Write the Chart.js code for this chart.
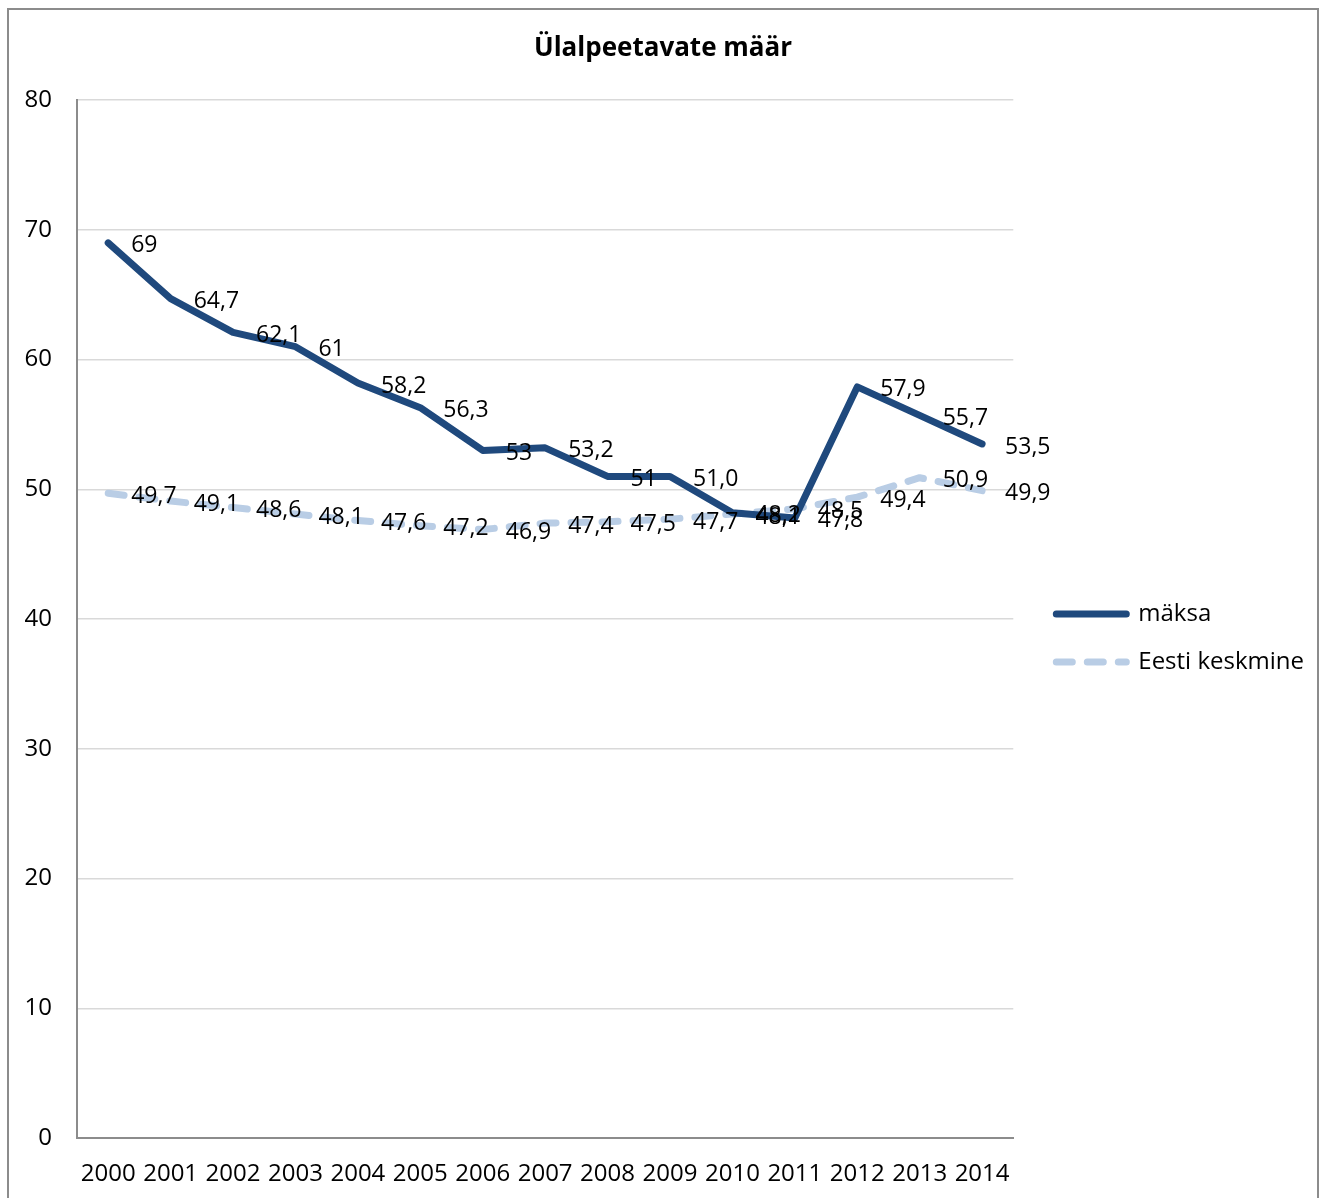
<!DOCTYPE html>
<html>
<head>
<meta charset="utf-8">
<script src="https://cdn.jsdelivr.net/npm/chart.js@4/dist/chart.umd.min.js"></script>
<style>
  body { margin: 0; background: #fff; }
  #wrap {
    position: absolute; left: 7px; top: 8px;
    width: 1308px; height: 1200px;
    border: 2px solid #8c8c8c; background: #fff;
  }
  canvas { display: block; }
</style>
</head>
<body>
<div id="wrap"><canvas id="chart" width="1308" height="1200"></canvas></div>
<script>
// Chart data
const years = ['2000', '2001', '2002', '2003', '2004', '2005', '2006', '2007',
    '2008', '2009', '2010', '2011', '2012', '2013', '2014'];
const maksaValues = [69, 64.7, 62.1, 61, 58.2, 56.3, 53, 53.2, 51, 51.0, 48.2, 47.8, 57.9, 55.7, 53.5];
const maksaLabels = ['69', '64,7', '62,1', '61', '58,2', '56,3', '53', '53,2', '51', '51,0', '48,2', '47,8', '57,9', '55,7', '53,5'];
const eestiValues = [49.7, 49.1, 48.6, 48.1, 47.6, 47.2, 46.9, 47.4, 47.5, 47.7, 48.1, 48.5, 49.4, 50.9, 49.9];
const eestiLabels = ['49,7', '49,1', '48,6', '48,1', '47,6', '47,2', '46,9', '47,4', '47,5', '47,7', '48,1', '48,5', '49,4', '50,9', '49,9'];
const yTicks = [0, 10, 20, 30, 40, 50, 60, 70, 80];

const FONT = "'Open Sans', 'DejaVu Sans', sans-serif";
const labelSets = [maksaLabels, eestiLabels];

// draws the value labels to the right of each point
const valueLabels = {
    id: 'valueLabels',
    afterDatasetsDraw(chart) {
        const ctx = chart.ctx;
        ctx.save();
        ctx.font = '23px ' + FONT;
        ctx.fillStyle = '#000';
        ctx.textAlign = 'left';
        ctx.textBaseline = 'middle';
        chart.data.datasets.forEach((ds, i) => {
            const meta = chart.getDatasetMeta(i);
            meta.data.forEach((pt, j) => {
                ctx.fillText(labelSets[i][j], pt.x + 23, pt.y + 3);
            });
        });
        ctx.restore();
    }
};

function build() {
    const canvas = document.getElementById('chart');
    const ctx = canvas.getContext('2d');

    // legend line samples start near x=1046 in the canvas; pad both sides equally so the title stays centred
    ctx.font = '24px ' + FONT;
    const legendTextW = Math.max(ctx.measureText('Eesti keskmine').width, ctx.measureText('mäksa').width);
    const pad = Math.max(0, Math.round(1308 - 1046 - (70 + 12 + legendTextW)) - 11);

    new Chart(ctx, {
        type: 'line',
        data: {
            labels: years,
            datasets: [{
                label: 'mäksa',
                data: maksaValues,
                borderColor: '#1f497d',
                backgroundColor: '#1f497d',
                borderWidth: 7,
                borderCapStyle: 'round',
                borderJoinStyle: 'round',
                pointRadius: 0,
                tension: 0
            }, {
                label: 'Eesti keskmine',
                data: eestiValues,
                borderColor: '#b9cde5',
                backgroundColor: '#b9cde5',
                borderWidth: 7,
                borderDash: [16, 15],
                borderCapStyle: 'round',
                borderJoinStyle: 'round',
                pointRadius: 0,
                tension: 0
            }]
        },
        options: {
            responsive: false,
            animation: false,
            layout: { padding: { left: pad, right: pad, top: 0, bottom: 0 } },
            plugins: {
                title: {
                    display: true,
                    text: 'Ülalpeetavate määr',
                    color: '#000',
                    font: { family: FONT, size: 26, weight: 'bold' },
                    padding: { top: 23, bottom: 36 }
                },
                legend: {
                    position: 'right',
                    maxWidth: 500,
                    title: { display: true, text: '', font: { size: 10 }, padding: { top: 0, bottom: 44 } },
                    labels: {
                        usePointStyle: true,
                        pointStyle: 'line',
                        pointStyleWidth: 70,
                        padding: 24,
                        color: '#000',
                        font: { family: FONT, size: 24 },
                        generateLabels(chart) {
                            return chart.data.datasets.map((ds, i) => ({
                                text: ds.label,
                                strokeStyle: ds.borderColor,
                                fillStyle: ds.borderColor,
                                lineWidth: ds.borderWidth,
                                lineDash: ds.borderDash || [],
                                lineCap: 'round',
                                pointStyle: 'line',
                                fontColor: '#000',
                                datasetIndex: i
                            }));
                        }
                    }
                },
                tooltip: { enabled: false }
            },
            scales: {
                x: {
                    offset: true,
                    grid: { display: false, drawTicks: false },
                    border: { display: true, color: '#8c8c8c', width: 2 },
                    ticks: {
                        color: '#000',
                        font: { family: FONT, size: 24 },
                        padding: 22,
                        maxRotation: 0,
                        autoSkip: false
                    },
                    afterFit(scale) { scale.height = 72; }
                },
                y: {
                    min: 0,
                    max: 80,
                    afterBuildTicks(scale) { scale.ticks = yTicks.map(v => ({ value: v })); },
                    grid: { color: '#d9d9d9', lineWidth: 1.5, drawTicks: false },
                    border: { display: true, color: '#8c8c8c', width: 2 },
                    ticks: {
                        color: '#000',
                        font: { family: FONT, size: 24 },
                        padding: 25
                    },
                    afterFit(scale) { scale.width = 68 - pad; }
                },
                spacer: {
                    position: 'right',
                    display: true,
                    grid: { display: false, drawTicks: false },
                    border: { display: false },
                    ticks: { display: false },
                    afterFit(scale) { scale.width = 19; }
                }
            }
        },
        plugins: [valueLabels]
    });
}

Promise.all([
    document.fonts.load('24px "Open Sans"'),
    document.fonts.load('bold 26px "Open Sans"')
]).then(build, build);
</script>
</body>
</html>
